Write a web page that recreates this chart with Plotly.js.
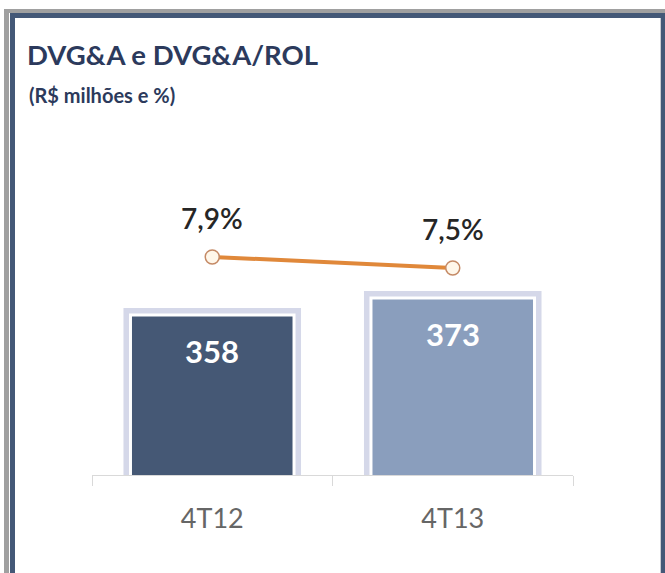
<!DOCTYPE html>
<html>
<head>
<meta charset="utf-8">
<script src="https://cdn.plot.ly/plotly-3.0.1.min.js"></script>
<style>html,body{margin:0;padding:0;background:#fff;}#chart{width:665px;height:573px;}</style>
</head>
<body>
<div id="chart"></div>
<script>
// Data
const categories = ["4T12", "4T13"];
const dvgaValues = [358, 373];
const dvgaRolPct = [7.9, 7.5];
const barColors = ["#455875", "#8a9ebd"];

// Plot area geometry (pixels)
const L = 92, T = 150, W = 481, H = 325;
function px(x){ return (x - L) / W; }
function py(y){ return (T + H - y) / H; }

function fmtPct(v){ return v.toFixed(1).replace(".", ",") + "%"; }

const FONT = "Lato, 'Open Sans', sans-serif";

const halo = {
  type: "bar", x: categories, y: dvgaValues, width: 0.68,
  marker: { color: "#d5d8e9", line: { color: "#d5d8e9", width: 14 } },
  hoverinfo: "skip", showlegend: false
};
const bars = {
  type: "bar", x: categories, y: dvgaValues, width: 0.68,
  marker: { color: barColors, line: { color: "#ffffff", width: 3 } },
  showlegend: false
};
const line = {
  type: "scatter", mode: "lines+markers", x: categories, y: dvgaRolPct, yaxis: "y2",
  line: { color: "#e0883a", width: 4 },
  marker: { size: 14, color: "#fff7ea", line: { color: "#c58a66", width: 1.5 } },
  showlegend: false, cliponaxis: false
};

const annotations = [];
categories.forEach((c, i) => {
  annotations.push({
    x: c, y: dvgaValues[i], xref: "x", yref: "y", text: String(dvgaValues[i]),
    showarrow: false, yshift: -36, yanchor: "middle",
    font: { family: FONT, size: 31, color: "#ffffff", weight: 700 }
  });
  annotations.push({
    x: c, y: dvgaRolPct[i], xref: "x", yref: "y2", text: fmtPct(dvgaRolPct[i]),
    showarrow: false, yshift: 39, yanchor: "middle",
    font: { family: FONT, size: 28, color: "#262626", weight: 600 }
  });
});
annotations.push({
  xref: "paper", yref: "paper", x: px(27), y: py(81), xanchor: "left", yanchor: "top",
  text: "<b>(R$ milhões e %)</b>", showarrow: false,
  font: { family: FONT, size: 20, color: "#2c3a5c" }
});

function rect(x0, y0, x1, y1, color){
  return { type: "rect", xref: "paper", yref: "paper", x0: px(x0), x1: px(x1), y0: py(y0), y1: py(y1),
    fillcolor: color, line: { width: 0 }, layer: "below" };
}
const shapes = [
  rect(4, 9, 665, 573, "#a0a0a0"),
  rect(9, 13, 665, 573, "#ffffff"),
  rect(10, 13, 665, 573, "#445877"),
  rect(15, 18, 661, 573, "#c9cbd2"),
  rect(15, 18, 660, 573, "#ffffff")
];

const layout = {
  width: 665, height: 573, autosize: false,
  margin: { l: L, r: 665 - L - W, t: T, b: 573 - T - H, pad: 0 },
  paper_bgcolor: "#ffffff", plot_bgcolor: "rgba(0,0,0,0)",
  barmode: "overlay", bargap: 0,
  title: {
    text: "<b>DVG&A e DVG&A/ROL</b>", xref: "container", yref: "container",
    x: 27 / 665, xanchor: "left", y: 1 - 46 / 573, yanchor: "top",
    font: { family: FONT, size: 27.5, color: "#2c3a5c" }
  },
  xaxis: {
    type: "category", range: [-0.5, 1.5], showline: true, linecolor: "#d9d9d9", linewidth: 1,
    ticks: "outside", tickson: "boundaries", ticklen: 10, tickcolor: "#d9d9d9", tickwidth: 1,
    ticklabelstandoff: 20,
    showgrid: false, zeroline: false,
    tickfont: { family: FONT, size: 27, color: "#666666" }
  },
  yaxis: { range: [216.8, 503.6], visible: false, showgrid: false, zeroline: false, fixedrange: true },
  yaxis2: { range: [-0.03, 11.79], overlaying: "y", side: "right", visible: false, showgrid: false, zeroline: false },
  annotations: annotations,
  shapes: shapes,
  showlegend: false
};

Plotly.newPlot("chart", [halo, bars, line], layout, { displayModeBar: false, staticPlot: true });
</script>
</body>
</html>
